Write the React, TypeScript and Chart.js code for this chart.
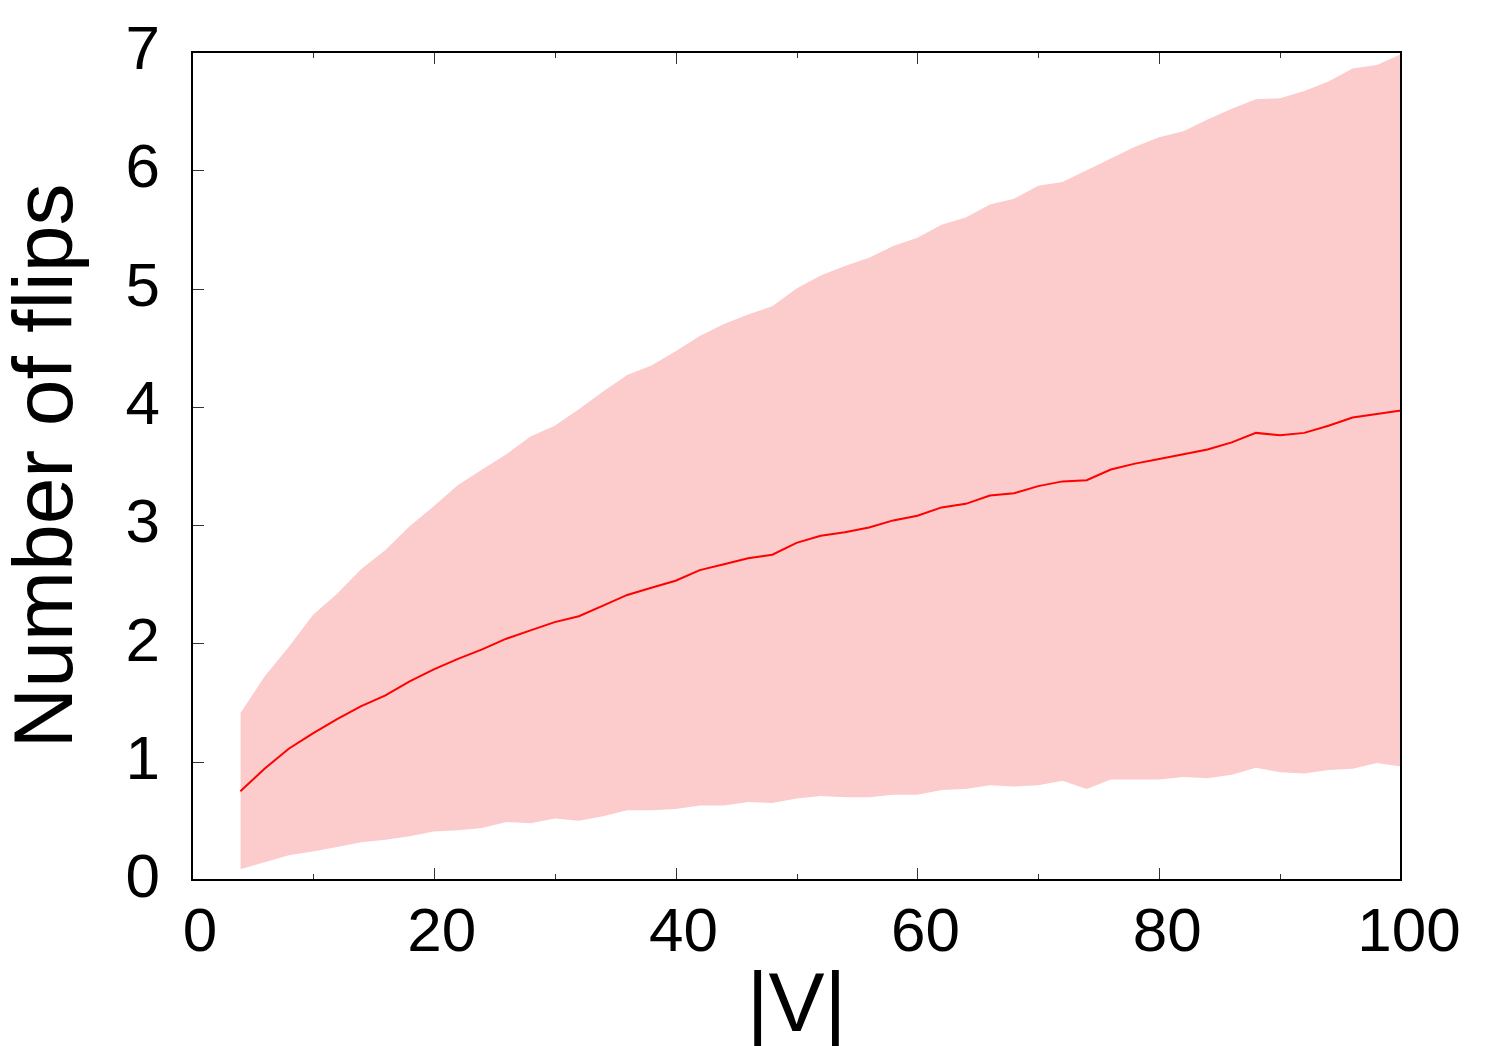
import React, { useEffect, useRef } from "react";
import { Chart, registerables } from "chart.js";

Chart.register(...registerables);

// |V| values
const sizes = [4, 6, 8, 10, 12, 14, 16, 18, 20, 22, 24, 26, 28, 30, 32, 34, 36, 38, 40, 42, 44, 46, 48, 50, 52, 54, 56, 58, 60, 62, 64, 66, 68, 70, 72, 74, 76, 78, 80, 82, 84, 86, 88, 90, 92, 94, 96, 98, 100];

const meanFlips = [0.75, 0.94, 1.11, 1.24, 1.36, 1.47, 1.56, 1.68, 1.78, 1.87, 1.95, 2.04, 2.11, 2.18, 2.23, 2.32, 2.41, 2.47, 2.53, 2.62, 2.67, 2.72, 2.75, 2.85, 2.91, 2.94, 2.98, 3.04, 3.08, 3.15, 3.18, 3.25, 3.27, 3.33, 3.37, 3.38, 3.47, 3.52, 3.56, 3.60, 3.64, 3.70, 3.78, 3.76, 3.78, 3.84, 3.91, 3.94, 3.97];

const upperFlips = [1.41, 1.72, 1.97, 2.24, 2.42, 2.63, 2.79, 2.99, 3.16, 3.34, 3.47, 3.60, 3.75, 3.84, 3.98, 4.13, 4.27, 4.35, 4.47, 4.60, 4.70, 4.78, 4.85, 5.00, 5.11, 5.19, 5.26, 5.36, 5.43, 5.54, 5.60, 5.71, 5.76, 5.87, 5.90, 6.00, 6.10, 6.20, 6.28, 6.33, 6.43, 6.52, 6.60, 6.61, 6.67, 6.75, 6.86, 6.89, 6.98];

const lowerFlips = [0.09, 0.15, 0.21, 0.24, 0.28, 0.32, 0.34, 0.37, 0.41, 0.42, 0.44, 0.49, 0.48, 0.52, 0.50, 0.54, 0.59, 0.59, 0.60, 0.63, 0.63, 0.66, 0.65, 0.69, 0.71, 0.70, 0.70, 0.72, 0.72, 0.76, 0.77, 0.80, 0.79, 0.80, 0.84, 0.77, 0.85, 0.85, 0.85, 0.87, 0.86, 0.89, 0.95, 0.91, 0.90, 0.93, 0.94, 0.99, 0.96];

const xMajorTicks = [0, 20, 40, 60, 80, 100];
const xMinorTicks = [10, 30, 50, 70, 90];
const yTicks = [0, 1, 2, 3, 4, 5, 6, 7];

const X_TITLE = "|V|";
const Y_TITLE = "Number of flips";
const FONT = "'Liberation Sans', Arial, Helvetica, sans-serif";

const framePlugin = {
  id: "gnuplotFrame",
  afterDatasetsDraw(chart: any) {
    const { ctx, chartArea, scales } = chart;
    const { left, right, top, bottom } = chartArea;
    const xs = scales.x;
    const ys = scales.y;
    ctx.save();
    ctx.lineWidth = 1;
    ctx.strokeStyle = "#333";
    const seg = (x1: number, y1: number, x2: number, y2: number) => {
      ctx.beginPath();
      ctx.moveTo(x1, y1);
      ctx.lineTo(x2, y2);
      ctx.stroke();
    };
    xMajorTicks.forEach((v) => {
      const px = Math.round(xs.getPixelForValue(v)) + 0.5;
      seg(px, bottom, px, bottom - 12);
      seg(px, top, px, top + 12);
    });
    xMinorTicks.forEach((v) => {
      const px = Math.round(xs.getPixelForValue(v)) + 0.5;
      seg(px, bottom, px, bottom - 6);
      seg(px, top, px, top + 6);
    });
    yTicks.forEach((v) => {
      const py = Math.round(ys.getPixelForValue(v)) + 0.5;
      seg(left, py, left + 12, py);
    });
    ctx.lineWidth = 2;
    ctx.strokeStyle = "#000";
    ctx.strokeRect(left, top, right - left, bottom - top);
    ctx.restore();
  },
};

export default function App() {
  const canvasRef = useRef<HTMLCanvasElement | null>(null);

  useEffect(() => {
    const canvas = canvasRef.current;
    if (!canvas) return;
    const pts = (arr: number[]) => sizes.map((x, i) => ({ x, y: arr[i] }));
    const chart = new Chart(canvas, {
      type: "line",
      data: {
        datasets: [
          {
            label: "mean",
            data: pts(meanFlips),
            borderColor: "rgb(255,0,0)",
            borderWidth: 2,
            pointRadius: 0,
            tension: 0,
            fill: false,
          },
          {
            label: "upper",
            data: pts(upperFlips),
            borderColor: "rgba(0,0,0,0)",
            borderWidth: 0,
            backgroundColor: "rgb(252,203,203)",
            pointRadius: 0,
            tension: 0,
            fill: "+1",
          },
          {
            label: "lower",
            data: pts(lowerFlips),
            borderColor: "rgba(0,0,0,0)",
            borderWidth: 0,
            pointRadius: 0,
            tension: 0,
            fill: false,
          },
        ],
      },
      options: {
        animation: false,
        responsive: false,
        maintainAspectRatio: false,
        layout: { padding: { top: 52, right: 94, left: 0, bottom: 0 } },
        plugins: {
          legend: { display: false },
          tooltip: { enabled: false },
        },
        scales: {
          x: {
            type: "linear",
            min: 0,
            max: 100,
            border: { display: false },
            grid: { display: false, drawTicks: false },
            ticks: {
              stepSize: 20,
              color: "#000",
              padding: 17,
              labelOffset: 8,
              font: { family: FONT, size: 62 },
            },
            title: {
              display: true,
              text: X_TITLE,
              color: "#000",
              padding: 0,
              font: { family: FONT, size: 84, lineHeight: 0.914 },
            },
            afterFit: (s: any) => {
              s.height = 166;
            },
          },
          y: {
            type: "linear",
            min: 0,
            max: 7,
            border: { display: false },
            grid: { display: false, drawTicks: true, tickLength: 32 },
            ticks: {
              stepSize: 1,
              color: "#000",
              padding: 0,
              font: { family: FONT, size: 62 },
            },
            title: {
              display: true,
              text: Y_TITLE,
              color: "#000",
              padding: { top: 10, bottom: 0 },
              font: { family: FONT, size: 84, lineHeight: 0.914 },
            },
            afterFit: (s: any) => {
              s.width = 192;
            },
          },
        },
      },
      plugins: [framePlugin],
    });
    return () => chart.destroy();
  }, []);

  return (
    <div style={{ position: "absolute", left: 0, top: 0, width: 1495, height: 1046, background: "#fff" }}>
      <canvas ref={canvasRef} width={1495} height={1046} style={{ display: "block", width: 1495, height: 1046 }} />
    </div>
  );
}
